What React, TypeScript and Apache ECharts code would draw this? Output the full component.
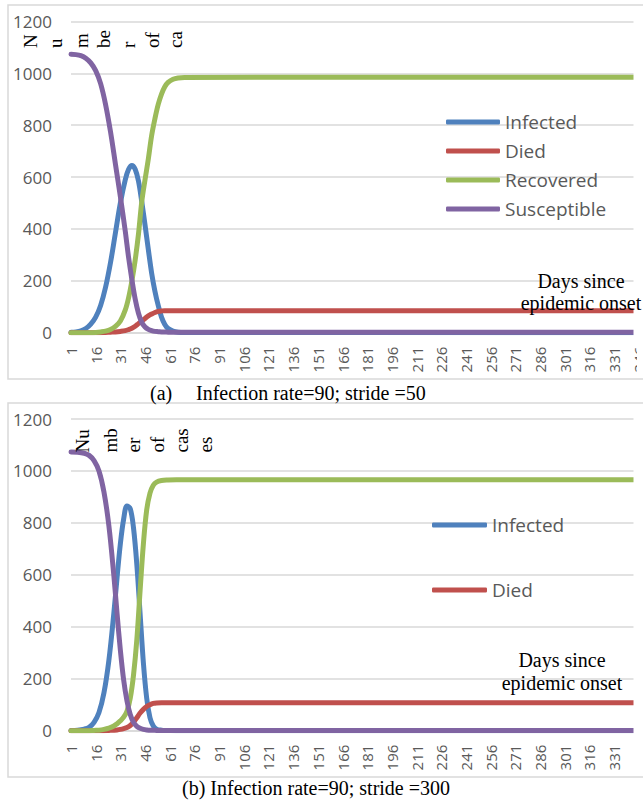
import React, { useEffect, useRef } from "react";
import * as echarts from "echarts";

// ---------- categories ----------
const days: string[] = Array.from({ length: 365 }, (_, i) => String(i + 1));
const yTicksMax = 1200;
const yTickStep = 200;

// ---------- chart (a): infection rate 90, stride 50 ----------
const keyDaysA = [1, 4, 7, 10, 13, 16, 19, 22, 25, 28, 31, 34, 36, 38, 40, 42, 44, 46, 48, 50, 52, 54, 56, 58, 60, 63, 66, 70, 365];
const susceptibleA = [1073, 1072, 1068, 1058, 1040, 1010, 960, 880, 775, 650, 525, 390, 290, 205, 130, 75, 40, 22, 13, 8, 5, 4, 3, 3, 2, 2, 2, 2, 2];
const infectedA = [2, 3, 7, 16, 33, 60, 105, 175, 270, 385, 500, 590, 630, 645, 630, 585, 505, 415, 320, 230, 160, 105, 60, 32, 16, 6, 2, 1, 0];
const recoveredA = [0, 0, 0, 0, 0, 1, 3, 6, 12, 24, 45, 88, 135, 200, 280, 380, 505, 590, 670, 760, 825, 880, 920, 948, 965, 977, 982, 984, 985];
const diedA = [0, 0, 0, 0, 0, 0, 0, 1, 2, 3, 5, 8, 12, 17, 25, 35, 45, 55, 65, 72, 78, 82, 84, 85, 85, 85, 85, 85, 85];

// ---------- chart (b): infection rate 90, stride 300 ----------
const keyDaysB = [1, 5, 9, 12, 15, 18, 21, 24, 27, 29, 31, 33, 35, 37, 39, 41, 43, 45, 47, 49, 51, 53, 56, 60, 65, 365];
const susceptibleB = [1073, 1072, 1068, 1060, 1040, 1000, 920, 790, 600, 450, 310, 195, 115, 62, 32, 17, 9, 5, 3, 2, 2, 1, 1, 1, 1, 1];
const infectedB = [1, 2, 6, 13, 32, 70, 145, 270, 450, 590, 720, 815, 865, 855, 780, 640, 450, 260, 125, 50, 18, 6, 2, 1, 0, 0];
const recoveredB = [0, 0, 0, 0, 1, 2, 5, 10, 18, 27, 38, 52, 75, 125, 215, 350, 540, 720, 850, 915, 945, 957, 963, 965, 966, 966];
const diedB = [0, 0, 0, 0, 0, 0, 0, 1, 2, 3, 5, 8, 12, 20, 33, 50, 68, 82, 93, 100, 105, 107, 108, 108, 108, 108];

const seriesNames = ["Infected", "Died", "Recovered", "Susceptible"];
const seriesColors = ["#4F81BD", "#C0504D", "#9BBB59", "#8064A2"];
const legendA = ["Infected", "Died", "Recovered", "Susceptible"];
const legendB = ["Infected", "Died"];

const yFragmentsA = ["N", "u", "m", "be", "r", "of", "ca"];
const yFragmentsB = ["Nu", "mb", "er", "of", "cas", "es"];

const SERIF = "'Liberation Serif', 'Times New Roman', serif";
const SANS = "'Open Sans', 'Noto Sans', sans-serif";

function pairs(keys: number[], vals: number[]) {
  return keys.map((d, i) => [d - 1, vals[i]]);
}

function makeSeries(gridIdx: number, keys: number[], sets: number[][]) {
  return sets.map((vals, k) => ({
    name: seriesNames[k],
    type: "line",
    xAxisIndex: gridIdx,
    yAxisIndex: gridIdx,
    data: pairs(keys, vals),
    showSymbol: false,
    smooth: 0.35,
    color: seriesColors[k],
    lineStyle: { width: 5, color: seriesColors[k], cap: "round", join: "round" },
    z: 2 + k,
  }));
}

function axisX(gridIdx: number) {
  return {
    type: "category",
    gridIndex: gridIdx,
    data: days,
    boundaryGap: false,
    axisLine: { show: true, lineStyle: { color: "#d9d9d9", width: 1.5 } },
    axisTick: { show: false },
    axisLabel: {
      interval: 14,
      rotate: 90,
      margin: 14,
      fontSize: 15,
      fontFamily: SANS,
      color: "#595959",
    },
    splitLine: { show: false },
  };
}

function axisY(gridIdx: number) {
  return {
    type: "value",
    gridIndex: gridIdx,
    min: 0,
    max: yTicksMax,
    interval: yTickStep,
    axisLine: { show: false },
    axisTick: { show: false },
    axisLabel: {
      margin: 19,
      fontSize: 17,
      fontFamily: SANS,
      color: "#595959",
      formatter: (v: number) => String(v),
    },
    splitLine: { show: true, lineStyle: { color: "#d9d9d9", width: 1.5 } },
  };
}

function rotatedFragments(frags: string[], yBottom: number, xs: number[]) {
  return frags.map((t, i) => ({
    type: "group",
    x: xs[i],
    y: yBottom,
    rotation: Math.PI / 2,
    z: 20,
    children: [
      {
        type: "text",
        x: 0,
        y: 0,
        z: 20,
        style: {
          text: t,
          font: `19px ${SERIF}`,
          fill: "#000",
          textAlign: "left",
          textVerticalAlign: "middle",
          align: "left",
          verticalAlign: "middle",
        },
      },
    ],
  }));
}

function plainText(t: string, x: number, y: number, size: number, align: string) {
  return {
    type: "text",
    x,
    y,
    z: 20,
    style: {
      text: t,
      font: `${size}px ${SERIF}`,
      fill: "#000",
      textAlign: align,
      textVerticalAlign: "middle",
      align,
      verticalAlign: "middle",
    },
  };
}

function whiteRect(x: number, y: number, h: number) {
  return { type: "rect", z: 10, shape: { x, y, width: 130, height: h }, style: { fill: "#ffffff" } };
}

export default function App() {
  const ref = useRef<HTMLDivElement>(null);
  useEffect(() => {
    if (!ref.current) return;
    const chart = echarts.init(ref.current, undefined, { renderer: "svg" });
    const legendCommon = {
      orient: "vertical",
      icon: "roundRect",
      itemHeight: 5,
      padding: 0,
      selectedMode: false,
      textStyle: { fontFamily: SANS, fontSize: 19, color: "#595959", lineHeight: 20 },
    };
    chart.setOption({
      animation: false,
      backgroundColor: "#ffffff",
      grid: [
        { left: 71, top: 21.4, width: 599, height: 311.3 },
        { left: 71, top: 419, width: 599, height: 311.7 },
      ],
      xAxis: [axisX(0), axisX(1)],
      yAxis: [axisY(0), axisY(1)],
      legend: [
        { ...legendCommon, data: legendA, left: 446, top: 112, itemWidth: 54, itemGap: 9 },
        { ...legendCommon, data: legendB, left: 432, top: 515, itemWidth: 55, itemGap: 45 },
      ],
      series: [
        ...makeSeries(0, keyDaysA, [infectedA, diedA, recoveredA, susceptibleA]),
        ...makeSeries(1, keyDaysB, [infectedB, diedB, recoveredB, susceptibleB]),
      ],
      graphic: [
        { type: "rect", z: 1, shape: { x: 8, y: 5, width: 760, height: 374 }, style: { fill: "none", stroke: "#d9d9d9", lineWidth: 1.5 } },
        { type: "rect", z: 1, shape: { x: 8, y: 403, width: 760, height: 374 }, style: { fill: "none", stroke: "#d9d9d9", lineWidth: 1.5 } },
        whiteRect(633.5, 6.5, 334),
        whiteRect(637, 340.5, 37),
        whiteRect(633.5, 404.5, 371),
        ...rotatedFragments(yFragmentsA, 48, [30, 55, 81, 103, 128, 152, 175]),
        ...rotatedFragments(yFragmentsB, 452.5, [82, 110, 133, 157, 181, 205]),
        plainText("Days since", 581, 281, 20, "center"),
        plainText("epidemic onset", 581, 303, 20, "center"),
        plainText("Days since", 562, 660, 20, "center"),
        plainText("epidemic onset", 562, 683, 20, "center"),
        plainText("(a)", 150, 393, 20, "left"),
        plainText("Infection rate=90; stride =50", 196, 393, 20, "left"),
        plainText("(b) Infection rate=90; stride =300", 316, 788, 20, "center"),
      ],
    });
    return () => chart.dispose();
  }, []);
  return (
    <div style={{ position: "fixed", left: 0, top: 0, width: 643, height: 803, overflow: "hidden", background: "#fff" }}>
      <div ref={ref} style={{ width: 760, height: 803 }} />
    </div>
  );
}
